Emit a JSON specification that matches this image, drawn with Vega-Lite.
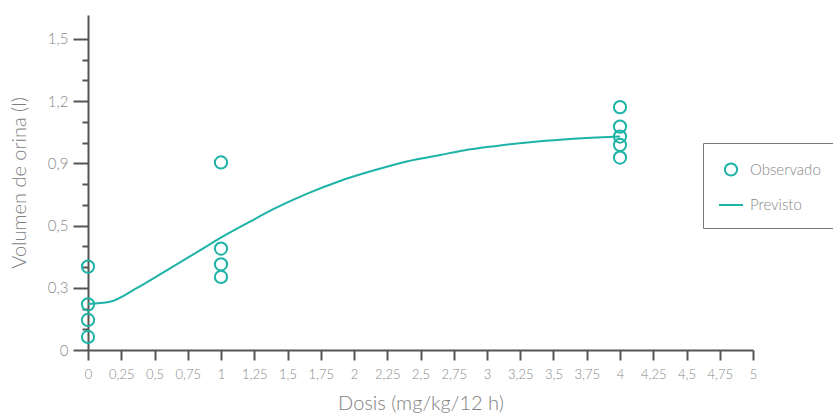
{
  "$schema": "https://vega.github.io/schema/vega-lite/v6.json",
  "width": 665,
  "height": 335,
  "autosize": {"type": "none"},
  "padding": {"left": 88, "top": 15, "right": 80, "bottom": 68},
  "background": "white",
  "datasets": {
    "obs": [
      {"dosis": 0, "vol": 0.402, "serie": "Observado"},
      {"dosis": 0, "vol": 0.220, "serie": "Observado"},
      {"dosis": 0, "vol": 0.145, "serie": "Observado"},
      {"dosis": 0, "vol": 0.063, "serie": "Observado"},
      {"dosis": 1, "vol": 0.904, "serie": "Observado"},
      {"dosis": 1, "vol": 0.489, "serie": "Observado"},
      {"dosis": 1, "vol": 0.413, "serie": "Observado"},
      {"dosis": 1, "vol": 0.352, "serie": "Observado"},
      {"dosis": 4, "vol": 1.171, "serie": "Observado"},
      {"dosis": 4, "vol": 1.077, "serie": "Observado"},
      {"dosis": 4, "vol": 1.029, "serie": "Observado"},
      {"dosis": 4, "vol": 0.989, "serie": "Observado"},
      {"dosis": 4, "vol": 0.928, "serie": "Observado"}
    ],
    "pred": [
      {"dosis": 0, "vol": 0.222},
      {"dosis": 0.165, "vol": 0.233},
      {"dosis": 0.366, "vol": 0.298},
      {"dosis": 0.617, "vol": 0.394},
      {"dosis": 0.867, "vol": 0.49},
      {"dosis": 0.992, "vol": 0.539},
      {"dosis": 1.218, "vol": 0.619},
      {"dosis": 1.393, "vol": 0.679},
      {"dosis": 1.644, "vol": 0.753},
      {"dosis": 1.895, "vol": 0.815},
      {"dosis": 2.145, "vol": 0.865},
      {"dosis": 2.396, "vol": 0.909},
      {"dosis": 2.647, "vol": 0.940},
      {"dosis": 2.822, "vol": 0.962},
      {"dosis": 3.073, "vol": 0.984},
      {"dosis": 3.323, "vol": 1.002},
      {"dosis": 3.574, "vol": 1.015},
      {"dosis": 3.825, "vol": 1.024},
      {"dosis": 4.0, "vol": 1.029}
    ]
  },
  "config": {
    "view": {"stroke": null},
    "font": "Lato",
    "axis": {
      "grid": false,
      "domainColor": "#555555",
      "domainWidth": 2,
      "tickColor": "#555555",
      "tickWidth": 2,
      "labelFont": "Lato",
      "labelColor": "#888888",
      "labelFontWeight": 300,
      "titleFont": "Lato",
      "titleColor": "#808080",
      "titleFontWeight": 300
    },
    "legend": {
      "labelFont": "Lato",
      "labelFontSize": 15,
      "labelColor": "#888888",
      "labelFontWeight": 300
    }
  },
  "resolve": {"axis": {"y": "independent"}},
  "layer": [
    {
      "data": {"name": "pred"},
      "mark": {"type": "line", "color": "#1db3a6", "strokeWidth": 2, "interpolate": "monotone"},
      "encoding": {
        "x": {
          "field": "dosis", "type": "quantitative",
          "scale": {"domain": [0, 5], "nice": false},
          "axis": {
            "title": "Dosis (mg/kg/12 h)",
            "values": [0, 0.25, 0.5, 0.75, 1, 1.25, 1.5, 1.75, 2, 2.25, 2.5, 2.75, 3, 3.25, 3.5, 3.75, 4, 4.25, 4.5, 4.75, 5],
            "labelExpr": "replace(format(datum.value, '~g'), '.', ',')",
            "tickSize": 10,
            "labelFontSize": 13,
            "labelPadding": 8,
            "labelFlush": false,
            "labelOverlap": false,
            "titleFontSize": 20,
            "titlePadding": 12
          }
        },
        "y": {
          "field": "vol", "type": "quantitative",
          "scale": {"domain": [0, 1.615], "nice": false, "zero": true},
          "axis": {
            "orient": "left",
            "title": "Volumen de orina (l)",
            "values": [0, 0.3, 0.6, 0.9, 1.2, 1.5],
            "labelExpr": "datum.value == 0.6 ? '0,5' : replace(format(datum.value, '~g'), '.', ',')",
            "tickSize": 15,
            "labelFontSize": 15,
            "labelPadding": 5,
            "labelOverlap": false,
            "titleFontSize": 20,
            "titlePadding": 18
          }
        }
      }
    },
    {
      "data": {"name": "obs"},
      "mark": {"type": "point", "filled": false, "color": "#1db3a6", "strokeWidth": 2, "opacity": 1},
      "encoding": {
        "x": {
          "field": "dosis", "type": "quantitative",
          "axis": {
            "title": "Dosis (mg/kg/12 h)",
            "values": [0, 0.25, 0.5, 0.75, 1, 1.25, 1.5, 1.75, 2, 2.25, 2.5, 2.75, 3, 3.25, 3.5, 3.75, 4, 4.25, 4.5, 4.75, 5],
            "labelExpr": "replace(format(datum.value, '~g'), '.', ',')",
            "tickSize": 10,
            "labelFontSize": 13,
            "labelPadding": 8,
            "labelFlush": false,
            "labelOverlap": false,
            "titleFontSize": 20,
            "titlePadding": 12
          }
        },
        "y": {
          "field": "vol", "type": "quantitative",
          "axis": {
            "orient": "left",
            "title": null,
            "values": [0.1, 0.2, 0.4, 0.5, 0.7, 0.8, 1.0, 1.1, 1.3, 1.4],
            "labels": false,
            "domain": false,
            "tickSize": 6
          }
        },
        "size": {
          "field": "serie", "type": "nominal",
          "scale": {"domain": ["Observado", "Previsto"], "range": [150, 576]},
          "legend": {
            "title": " ",
            "titleFontSize": 1,
            "titlePadding": 3,
            "orient": "none",
            "legendX": 615,
            "legendY": 128,
            "padding": 15,
            "rowPadding": 12,
            "labelOffset": 6,
            "strokeColor": "#777777",
            "fillColor": "white",
            "cornerRadius": 0,
            "symbolStrokeWidth": 2
          }
        },
        "shape": {
          "field": "serie", "type": "nominal",
          "scale": {"domain": ["Observado", "Previsto"], "range": ["circle", "stroke"]},
          "legend": {
            "title": " ",
            "titleFontSize": 1,
            "titlePadding": 3,
            "orient": "none",
            "legendX": 615,
            "legendY": 128,
            "padding": 15,
            "rowPadding": 12,
            "labelOffset": 6,
            "strokeColor": "#777777",
            "fillColor": "white",
            "cornerRadius": 0,
            "symbolStrokeWidth": 2
          }
        }
      }
    }
  ]
}
